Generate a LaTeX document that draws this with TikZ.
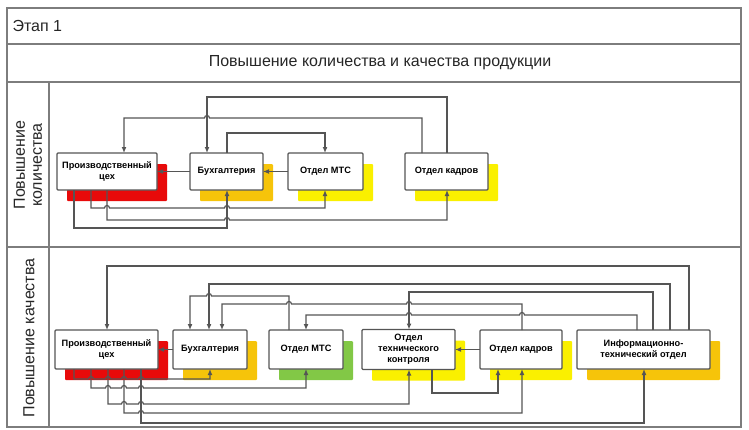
\documentclass[tikz,border=0pt]{standalone}
\usepackage{fontspec}
\setmainfont{Liberation Sans}
\usetikzlibrary{arrows.meta,shadows}
\definecolor{frm}{RGB}{125,125,125}
\definecolor{lnc}{RGB}{85,85,85}
\definecolor{shred}{RGB}{232,10,10}
\definecolor{shorg}{RGB}{246,196,10}
\definecolor{shyel}{RGB}{250,240,0}
\definecolor{shgrn}{RGB}{130,200,70}
\begin{document}
\begin{tikzpicture}[x=1pt,y=-1pt,
  frame/.style={draw=frm, line width=1.3pt},
  box/.style={draw=lnc, fill=white, line width=1.2pt, rounded corners=1pt, align=center,
    font=\bfseries\fontsize{9.2}{11}\selectfont, inner sep=1pt, outer sep=0pt},
  shd/.style={general shadow={fill=#1, shadow xshift=10pt, shadow yshift=-11pt}},
  arr/.style={draw=lnc, line width=1.2pt, -{Latex[length=6pt,width=5pt]}},
  lab/.style={font=\fontsize{16}{17}\selectfont, text=black!85}]
\useasboundingbox (0,0) rectangle (749,429);
% frame
\draw[frame] (7,8) rectangle (741,427);
\draw[frame] (7,44) -- (741,44);
\draw[frame] (7,82) -- (741,82);
\draw[frame] (7,247) -- (741,247);
\draw[frame] (49,82) -- (49,427);
\node[lab, anchor=west] (et) at (9,26) {Этап 1};
\node[lab] (tt) at (380,63) {Повышение количества и качества продукции};
\node[lab, rotate=90, align=center] (l1) at (28,165) {Повышение\\количества};
\node[lab, rotate=90] (l2) at (29,338) {Повышение качества};
% lane 1 boxes
\node[box, shd=shred, minimum width=100pt, minimum height=37pt] (p1) at (107,171.5) {Производственный\\цех};
\node[box, shd=shorg, minimum width=73pt, minimum height=37pt] (b1) at (226.5,171.5) {Бухгалтерия};
\node[box, shd=shyel, minimum width=75pt, minimum height=37pt] (m1) at (325.5,171.5) {Отдел МТС};
\node[box, shd=shyel, minimum width=83pt, minimum height=37pt] (k1) at (446.5,171.5) {Отдел кадров};
% lane 1 connectors
\draw[arr] ([xshift=.5pt]k1.north) -- ++(0,-56) -| ([xshift=-19.5pt]b1.north);
\draw[arr] ([xshift=-24.5pt]k1.north) -- ++(0,-35) -- (209.5,118) arc[start angle=0,end angle=180,radius=2.5pt] -- (124,118) -- ([xshift=17pt]p1.north);
\draw[arr] ([xshift=.5pt]b1.north) -- ++(0,-20) -| ([xshift=-.5pt]m1.north);
\draw[arr] (b1.west) -- (p1.east);
\draw[arr] (m1.west) -- (b1.east);
\draw[arr] ([xshift=-33pt]p1.south) -- ++(0,38) -| ([xshift=.5pt]b1.south);
\draw[arr] ([xshift=-16pt]p1.south) -- ++(0,18) -- (104.5,208) arc[start angle=180,end angle=0,radius=2.5pt] -- (224.5,208) arc[start angle=180,end angle=0,radius=2.5pt] -- (325,208) -- ([xshift=-.5pt]m1.south);
\draw[arr] (p1.south) -- ++(0,30) -- (224.5,220) arc[start angle=180,end angle=0,radius=2.5pt] -- (447,220) -- ([xshift=.5pt]k1.south);
% lane 2 boxes
\node[box, shd=shred, minimum width=103pt, minimum height=39pt] (p2) at (106.5,349.5) {Производственный\\цех};
\node[box, shd=shorg, minimum width=74pt, minimum height=39pt] (b2) at (210,349.5) {Бухгалтерия};
\node[box, shd=shgrn, minimum width=74pt, minimum height=39pt] (m2) at (306,349.5) {Отдел МТС};
\node[box, shd=shyel, minimum width=93pt, minimum height=40pt] (t2) at (408.5,349.5) {Отдел\\технического\\контроля};
\node[box, shd=shyel, minimum width=82pt, minimum height=39pt] (k2) at (521,349.5) {Отдел кадров};
\node[box, shd=shorg, minimum width=133pt, minimum height=39pt] (i2) at (643.5,349.5) {Информационно-\\технический отдел};
% lane 2 top connectors
\draw[arr] ([xshift=45.5pt]i2.north) -- ++(0,-64) -| ([xshift=.5pt]p2.north);
\draw[arr] ([xshift=26.5pt]i2.north) -- ++(0,-46) -| ([xshift=-1pt]b2.north);
\draw[arr] ([xshift=9.5pt]i2.north) -- ++(0,-38) -| ([xshift=.5pt]t2.north);
\draw[arr] ([xshift=-17pt]m2.north) -- ++(0,-34) -- (211.5,296) arc[start angle=0,end angle=180,radius=2.5pt] -- (190,296) -- ([xshift=-20pt]b2.north);
\draw[arr] ([xshift=1pt]k2.north) -- ++(0,-26) -- (411.5,304) arc[start angle=0,end angle=180,radius=2.5pt] -- (291.5,304) arc[start angle=0,end angle=180,radius=2.5pt] -- (222,304) -- ([xshift=12pt]b2.north);
\draw[arr] ([xshift=-6.5pt]i2.north) -- ++(0,-15) -- (524.5,315) arc[start angle=0,end angle=180,radius=2.5pt] -- (411.5,315) arc[start angle=0,end angle=180,radius=2.5pt] -- (306,315) -- (m2.north);
\draw[arr] (b2.west) -- (p2.east);
\draw[arr] (k2.west) -- (t2.east);
% lane 2 bottom connectors
\draw[arr] ([xshift=-32.5pt]p2.south) -- ++(0,10) -- (88.5,379) arc[start angle=180,end angle=0,radius=2.5pt] -- (105.5,379) arc[start angle=180,end angle=0,radius=2.5pt] -- (121.5,379) arc[start angle=180,end angle=0,radius=2.5pt] -- (138.5,379) arc[start angle=180,end angle=0,radius=2.5pt] -- (210,379) -- (b2.south);
\draw[arr] ([xshift=-15.5pt]p2.south) -- ++(0,19) -- (105.5,388) arc[start angle=180,end angle=0,radius=2.5pt] -- (121.5,388) arc[start angle=180,end angle=0,radius=2.5pt] -- (138.5,388) arc[start angle=180,end angle=0,radius=2.5pt] -- (306,388) -- (m2.south);
\draw[arr] ([xshift=1.5pt]p2.south) -- ++(0,35) -- (121.5,404) arc[start angle=180,end angle=0,radius=2.5pt] -- (138.5,404) arc[start angle=180,end angle=0,radius=2.5pt] -- (409,404) -- ([xshift=.5pt]t2.south);
\draw[arr] ([xshift=17.5pt]p2.south) -- ++(0,44) -- (138.5,413) arc[start angle=180,end angle=0,radius=2.5pt] -- (522,413) -- ([xshift=1pt]k2.south);
\draw[arr] ([xshift=34.5pt]p2.south) -- ++(0,54) -- (644,423) -- ([xshift=.5pt]i2.south);
\draw[arr] ([xshift=23.5pt]t2.south) -- ++(0,23.5) -| ([xshift=-23pt]k2.south);
\end{tikzpicture}
\end{document}
